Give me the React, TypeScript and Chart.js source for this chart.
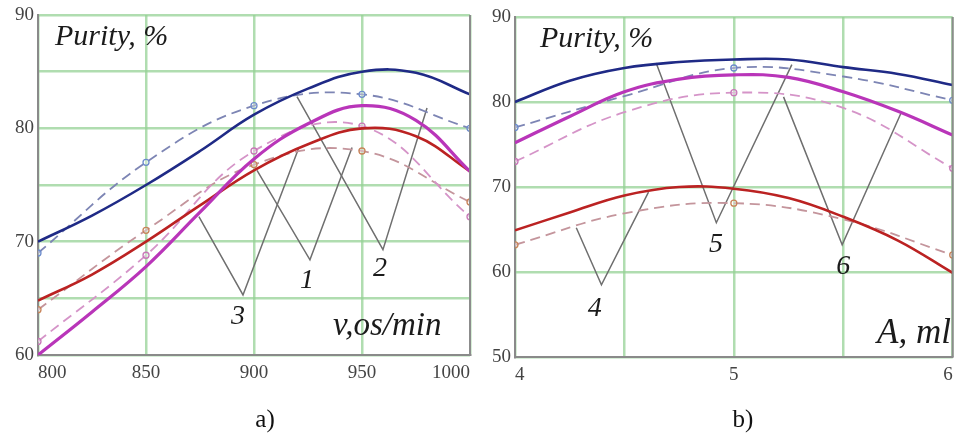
import React, { useEffect, useRef } from 'react';
import { Chart, registerables } from 'chart.js';
Chart.register(...registerables);

// ---------- Panel a) : purity vs rotation speed ----------
const A_X = [800, 825, 850, 875, 900, 925, 950, 975, 1000];
const A_BLUE = [70, 72.3, 75, 78, 81.2, 83.5, 85, 84.9, 83];
const A_MAGENTA = [60, 63.8, 67.8, 72.6, 77.3, 80.4, 82, 80.7, 76.2];
const A_RED = [64.8, 67.1, 70, 73.2, 76.3, 78.6, 80, 79.3, 76.2];
const A_MEAS_X = [800, 850, 900, 950, 1000];
const A_BLUE_D = [69, 77, 82, 83, 80];
const A_MAGENTA_D = [61.2, 68.8, 78, 80.2, 72.2];
const A_RED_D = [64, 71, 76.8, 78, 73.5];
const A_Y_LABELS = [60, 70, 80, 90];
const A_LEADERS = [
  { label: '3', pts: [[874.5, 72.2], [894.9, 65.3], [920.8, 78.3]], at: [892.6, 63.4] },
  { label: '1', pts: [[901.4, 76.3], [925.9, 68.4], [945.4, 78.3]], at: [924.5, 66.6] },
  { label: '2', pts: [[919.9, 82.8], [959.7, 69.3], [980.1, 81.8]], at: [958.3, 67.6] },
];

// ---------- Panel b) : purity vs A, ml ----------
const B_X = [4, 4.25, 4.5, 4.75, 5, 5.25, 5.5, 5.75, 6];
const B_BLUE = [80, 82.5, 84, 84.7, 85, 85, 84.1, 83.3, 82];
const B_MAGENTA = [75.2, 78.3, 81.2, 82.7, 83.2, 82.9, 81.2, 78.9, 76.1];
const B_RED = [64.9, 67, 69, 70, 69.8, 68.7, 66.5, 63.7, 59.9];
const B_MEAS_X = [4, 4.5, 5, 5.5, 6];
const B_BLUE_D = [77, 80.7, 84, 83, 80.2];
const B_MAGENTA_D = [73, 78.8, 81.1, 79.3, 72.2];
const B_RED_D = [63.2, 66.9, 68.1, 66.2, 62];
const B_X_LABELS = [4, 5, 6];
const B_LEADERS = [
  { label: '4', pts: [[4.28, 65.2], [4.395, 58.5], [4.61, 69.4]], at: [4.364, 55.7] },
  { label: '5', pts: [[4.645, 84.6], [4.92, 65.8], [5.265, 84.4]], at: [4.918, 63.2] },
  { label: '6', pts: [[5.227, 80.6], [5.495, 63.2], [5.764, 78.7]], at: [5.5, 60.6] },
];

const SERIF = '"Liberation Serif", "Times New Roman", serif';

const zip = (xs: number[], ys: number[]) => xs.map((x, i) => ({ x, y: ys[i] }));

function buildDatasets(p: any) {
  const solid = (data: any, color: string, w: number) => ({
    data, borderColor: color, borderWidth: w, pointRadius: 0, tension: 0.4, fill: false,
  });
  const dashed = (data: any, color: string, mark: string, showPt: (x: number) => boolean) => ({
    data, borderColor: color, borderWidth: 1.8, borderDash: [10, 6], tension: 0.4, fill: false,
    pointRadius: (c: any) => (showPt(c.raw?.x) ? 3 : 0),
    pointBackgroundColor: 'rgba(255,255,255,0.3)', pointBorderColor: mark, pointBorderWidth: 1.3,
  });
  const ds: any[] = [
    solid(zip(p.x, p.blue), '#1f2a86', 2.6),
    solid(zip(p.x, p.magenta), '#b935b9', 3.2),
    solid(zip(p.x, p.red), '#bb2222', 2.6),
    dashed(zip(p.mx, p.blueD), '#7d85b4', '#6d8ccc', p.showPt),
    dashed(zip(p.mx, p.magentaD), '#d594c8', '#c878b8', p.showPt),
    dashed(zip(p.mx, p.redD), '#c4959c', '#c8845a', p.showPt),
  ];
  p.leaders.forEach((l: any) => {
    ds.push({
      data: l.pts.map((q: number[]) => ({ x: q[0], y: q[1] })),
      borderColor: '#6f6f6f', borderWidth: 1.5, pointRadius: 0, tension: 0, fill: false,
    });
  });
  return ds;
}

function makeConfig(p: any) {
  const decor = {
    id: 'decor',
    afterDraw(chart: any) {
      const { ctx, chartArea: ca, scales } = chart;
      const sx = scales.x, sy = scales.y;
      ctx.save();
      ctx.strokeStyle = '#8c8c8c';
      ctx.lineWidth = 2;
      ctx.beginPath();
      ctx.moveTo(ca.right, ca.top);
      ctx.lineTo(ca.right, ca.bottom);
      ctx.stroke();
      ctx.fillStyle = '#1b1b1b';
      ctx.textBaseline = 'alphabetic';
      ctx.textAlign = 'left';
      ctx.font = `italic 30px ${SERIF}`;
      ctx.fillText('Purity, %', ca.left + p.titleDx, ca.top + 30);
      ctx.font = `italic ${p.axisSize}px ${SERIF}`;
      ctx.fillText(p.axisTitle, ca.left + p.axisDx, ca.bottom - p.axisDy);
      ctx.font = `italic 28px ${SERIF}`;
      ctx.textAlign = 'center';
      ctx.textBaseline = 'middle';
      p.leaders.forEach((l: any) => {
        ctx.fillText(l.label, sx.getPixelForValue(l.at[0]), sy.getPixelForValue(l.at[1]));
      });
      ctx.restore();
    },
  };
  const fitX = (s: any) => { s.height = p.xH; s.paddingLeft = 0; s.paddingRight = 0; };
  const fitY = (s: any) => { s.width = p.yW; s.paddingTop = 0; s.paddingBottom = 0; };
  const tickFont = { family: SERIF, size: 19 };
  return {
    type: 'line',
    data: { datasets: buildDatasets(p) },
    options: {
      responsive: false,
      animation: false,
      devicePixelRatio: 1,
      layout: { padding: { top: p.padTop, right: p.padRight, left: 0, bottom: 0 } },
      plugins: { legend: { display: false }, tooltip: { enabled: false } },
      scales: {
        x: {
          type: 'linear', min: p.xMin, max: p.xMax,
          afterFit: fitX,
          grid: { color: 'rgba(150,210,150,0.75)', lineWidth: 2.5, drawTicks: false },
          border: { color: '#8a8a8a', width: 2 },
          ticks: {
            stepSize: p.xStep, align: 'inner', padding: 7, color: '#444', font: tickFont,
            callback: (v: number) => (p.xLabel(v) ? String(v) : ''),
          },
        },
        y: {
          type: 'linear', min: p.yMin, max: p.yMax,
          afterFit: fitY,
          grid: { color: 'rgba(150,210,150,0.75)', lineWidth: 2.5, drawTicks: false },
          border: { color: '#8a8a8a', width: 2 },
          ticks: {
            stepSize: p.yStep, padding: 4, color: '#444', font: tickFont,
            callback: (v: number) => (p.yLabel(v) ? String(v) : ''),
          },
        },
      },
    },
    plugins: [decor],
  };
}

const PANEL_A = {
  x: A_X, blue: A_BLUE, magenta: A_MAGENTA, red: A_RED,
  mx: A_MEAS_X, blueD: A_BLUE_D, magentaD: A_MAGENTA_D, redD: A_RED_D,
  leaders: A_LEADERS, showPt: () => true,
  xMin: 800, xMax: 1000, xStep: 50, yMin: 60, yMax: 90, yStep: 5,
  xLabel: () => true, yLabel: (v: number) => A_Y_LABELS.includes(v),
  padTop: 15, padRight: 10, xH: 79, yW: 38,
  axisTitle: 'v,os/min', axisSize: 33, titleDx: 17, axisDx: 295, axisDy: 20,
};
const PANEL_B = {
  x: B_X, blue: B_BLUE, magenta: B_MAGENTA, red: B_RED,
  mx: B_MEAS_X, blueD: B_BLUE_D, magentaD: B_MAGENTA_D, redD: B_RED_D,
  leaders: B_LEADERS, showPt: (x: number) => B_X_LABELS.includes(x),
  xMin: 4, xMax: 6, xStep: 0.5, yMin: 50, yMax: 90, yStep: 10,
  xLabel: (v: number) => B_X_LABELS.includes(v), yLabel: () => true,
  padTop: 17, padRight: 0, xH: 77, yW: 35,
  axisTitle: 'A, ml', axisSize: 35, titleDx: 25, axisDx: 362, axisDy: 14,
};

function Panel({ cfg, left, width }: { cfg: any; left: number; width: number }) {
  const ref = useRef<HTMLCanvasElement | null>(null);
  useEffect(() => {
    if (!ref.current) return;
    const chart = new Chart(ref.current, makeConfig(cfg) as any);
    return () => chart.destroy();
  }, [cfg]);
  return (
    <canvas ref={ref} width={width} height={434}
      style={{ position: 'absolute', left, top: 0, width, height: 434 }} />
  );
}

export default function App() {
  const cap: React.CSSProperties = {
    position: 'absolute', top: 404, fontFamily: SERIF, fontSize: 25, color: '#111',
    width: 60, textAlign: 'center', lineHeight: '30px',
  };
  return (
    <div style={{ position: 'absolute', left: 0, top: 0, width: 954, height: 434, overflow: 'hidden', background: '#fff' }}>
      <Panel cfg={PANEL_A} left={0} width={480} />
      <Panel cfg={PANEL_B} left={480} width={478} />
      <div style={{ ...cap, left: 235 }}>a)</div>
      <div style={{ ...cap, left: 713 }}>b)</div>
    </div>
  );
}
